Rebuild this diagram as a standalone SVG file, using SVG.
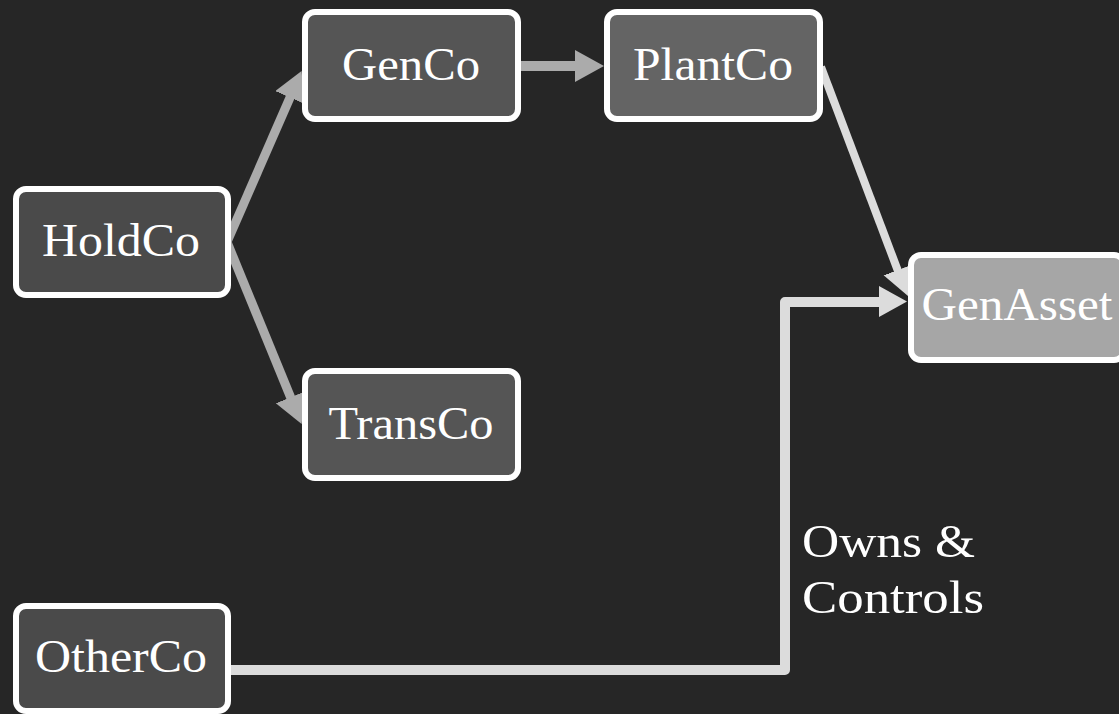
<svg xmlns="http://www.w3.org/2000/svg" width="1119" height="714" viewBox="0 0 1119 714">
<style>
.node rect{stroke:#ffffff;stroke-width:6}
.node text,.label{font-family:"Liberation Serif","Times New Roman",serif;font-size:46px;fill:#ffffff}
.node text{text-anchor:middle}
.edge{fill:none;stroke-linejoin:round}
.gray{stroke:#ababab}
.light{stroke:#dcdcdc}
</style>
<defs>
<marker id="ahGray" markerUnits="userSpaceOnUse" markerWidth="32" markerHeight="34" refX="1" refY="16" orient="auto" viewBox="0 0 32 34">
<path d="M0,0 L29,16 L0,32 z" fill="#ababab"/>
</marker>
<marker id="ahLight" markerUnits="userSpaceOnUse" markerWidth="32" markerHeight="34" refX="1" refY="16" orient="auto" viewBox="0 0 32 34">
<path d="M0,0 L28,15.5 L0,31 z" fill="#dcdcdc"/>
</marker>
</defs>
<rect x="0" y="0" width="1119" height="714" fill="#262626"/>
<g id="connectors">
<path class="edge gray" stroke-width="9" d="M227,242 L290.4,96.6" marker-end="url(#ahGray)"/>
<path class="edge gray" stroke-width="9" d="M227,242 L291,398.2" marker-end="url(#ahGray)"/>
<path class="edge gray" stroke-width="10" d="M521,66 L576,66" marker-end="url(#ahGray)"/>
<path class="edge light" stroke-width="8" d="M821,67 L898,271" marker-end="url(#ahLight)"/>
<path class="edge light" stroke-width="10" d="M231,670 L785,670 L785,302 L880,302" marker-end="url(#ahLight)"/>
<text class="label" x="802" y="557" textLength="173" lengthAdjust="spacingAndGlyphs">Owns &amp;</text>
<text class="label" x="802" y="613" textLength="182" lengthAdjust="spacingAndGlyphs">Controls</text>
</g>
<g id="HoldCo" class="node">
<rect x="16" y="189" width="212" height="106" rx="10" fill="#4a4a4a"/>
<text x="121" y="256" textLength="158" lengthAdjust="spacingAndGlyphs">HoldCo</text>
</g>
<g id="GenCo" class="node">
<rect x="305" y="12" width="213" height="107" rx="10" fill="#555555"/>
<text x="411" y="80" textLength="138" lengthAdjust="spacingAndGlyphs">GenCo</text>
</g>
<g id="PlantCo" class="node">
<rect x="607" y="12" width="213" height="107" rx="10" fill="#646464"/>
<text x="713" y="80" textLength="160" lengthAdjust="spacingAndGlyphs">PlantCo</text>
</g>
<g id="GenAsset" class="node">
<rect x="911" y="255" width="213" height="105" rx="10" fill="#a6a6a6"/>
<text x="1017" y="320" textLength="191" lengthAdjust="spacingAndGlyphs">GenAsset</text>
</g>
<g id="TransCo" class="node">
<rect x="305" y="371" width="213" height="107" rx="10" fill="#555555"/>
<text x="411" y="439" textLength="165" lengthAdjust="spacingAndGlyphs">TransCo</text>
</g>
<g id="OtherCo" class="node">
<rect x="16" y="606" width="212" height="105" rx="10" fill="#4a4a4a"/>
<text x="121" y="672" textLength="172" lengthAdjust="spacingAndGlyphs">OtherCo</text>
</g>
</svg>
